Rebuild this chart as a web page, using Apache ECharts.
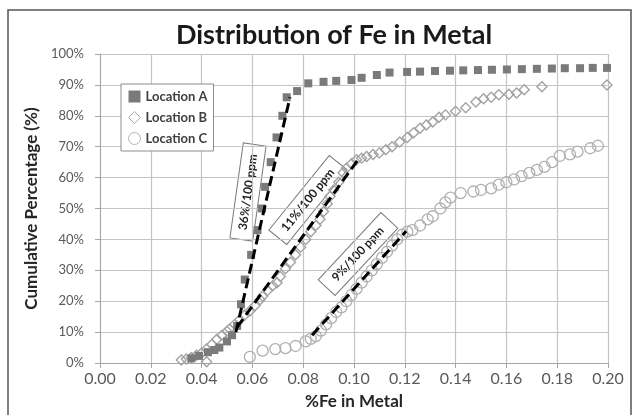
<!DOCTYPE html>
<html>
<head>
<meta charset="utf-8">
<script src="https://cdn.jsdelivr.net/npm/echarts@6/dist/echarts.min.js"></script>
<style>html,body{margin:0;padding:0;background:#fff}#c{width:634px;height:415px}</style>
</head>
<body>
<div id="c"></div>
<script>
// ---- data ----
const titleText = 'Distribution of Fe in Metal';
const xName = '%Fe in Metal';
const yName = 'Cumulative Percentage (%)';
const seriesNames = ['Location A', 'Location B', 'Location C'];

// Location A: [%Fe, cumulative %]
const locA = [
  [0.036,1.5],[0.039,2.3],[0.0425,3.5],[0.045,4.2],[0.047,5],[0.050,7],[0.052,9],[0.054,12],
  [0.0555,19],[0.057,27],[0.0595,35],[0.062,43],[0.0638,50],[0.065,57],[0.0672,65],[0.0695,73],
  [0.0718,80],[0.0735,86],[0.0776,88],[0.082,90.5],[0.088,91],[0.093,91.3],[0.099,91.6],
  [0.103,92.3],[0.109,93.2],[0.114,94],[0.1209,94.2],[0.126,94.3],[0.1319,94.5],[0.1378,94.6],
  [0.143,94.7],[0.1488,94.8],[0.1543,94.9],[0.1602,95],[0.1661,95.1],[0.172,95.2],[0.1779,95.3],
  [0.183,95.4],[0.189,95.4],[0.194,95.5],[0.1996,95.5]
];
// Location B
const locB = [
  [0.032,1],[0.034,1.3],[0.036,1.8],[0.038,2.5],[0.040,3.2],[0.042,0.4],[0.042,4.5],[0.044,6],
  [0.046,7.7],[0.048,9],[0.050,10.3],[0.051,11],[0.053,12.5],[0.055,14],[0.057,15.5],[0.059,16.8],
  [0.061,18.5],[0.063,20.5],[0.064,21.6],[0.066,23.5],[0.068,25],[0.0697,26],[0.071,28],[0.073,30.5],
  [0.075,32.6],[0.077,35],[0.079,37.5],[0.081,40],[0.083,42.5],[0.085,44.5],[0.0866,46.5],[0.088,49],
  [0.0895,51.5],[0.0906,54],[0.092,56],[0.094,58.5],[0.0957,61.6],[0.097,63],[0.099,64.5],[0.101,65.8],
  [0.103,66.3],[0.105,66.8],[0.1075,67.5],[0.110,68],[0.1125,69],[0.115,70],[0.118,71.5],[0.121,73],
  [0.1235,74.5],[0.126,76],[0.1285,77],[0.131,78],[0.1335,79.5],[0.136,80.3],[0.140,81.5],[0.144,82.6],
  [0.148,84.5],[0.151,85.5],[0.154,86],[0.157,86.8],[0.161,87],[0.164,87.4],[0.167,88.4],[0.174,89.4],
  [0.1996,90]
];
// Location C
const locC = [
  [0.059,2],[0.064,4],[0.069,4.5],[0.073,4.8],[0.077,5.5],[0.081,7],[0.083,7.8],[0.085,8.7],
  [0.087,10.5],[0.089,12.5],[0.091,14.5],[0.093,16.5],[0.095,18],[0.097,20],[0.099,22],[0.101,24],
  [0.103,26],[0.105,28],[0.107,30],[0.109,32],[0.111,34],[0.113,36],[0.115,38],[0.117,40],
  [0.119,41.5],[0.121,42.5],[0.123,43],[0.126,44.5],[0.129,46.5],[0.131,47.5],[0.134,50],[0.136,52],
  [0.138,53.5],[0.142,55],[0.147,55.5],[0.150,56],[0.154,56.5],[0.157,57.7],[0.160,58.5],[0.163,59.4],
  [0.166,60.5],[0.169,61.5],[0.172,62.5],[0.175,63.5],[0.178,65],[0.181,67],[0.185,67.5],[0.188,68.4],
  [0.193,69.5],[0.196,70.3]
];
// trend lines (endpoints)
const trendA = [[0.0535,10],[0.0748,86]];
const trendB = [[0.054,11.6],[0.1016,65.8]];
const trendC = [[0.0835,9],[0.1205,42.6]];
const trendLabels = ['36%/100 ppm', '11%/100 ppm', '9%/100 ppm'];

const xMin = 0, xMax = 0.2, xStep = 0.02;
const yMin = 0, yMax = 100, yStep = 10;

// ---- chart ----
const FONT = 'Lato, "Open Sans", sans-serif';
const chart = echarts.init(document.getElementById('c'), null, {renderer: 'canvas'});

function trend(data) {
  return {
    type: 'line', data: data, symbol: 'none', silent: true, z: 10,
    lineStyle: {color: '#000', width: 3, type: [10, 5]}
  };
}
function box(label, cx, cy, deg, w) {
  return {
    type: 'group', x: cx, y: cy, rotation: deg * Math.PI / 180, z: 100,
    children: [
      {type: 'rect', shape: {x: -w / 2, y: -11.5, width: w, height: 23},
       style: {fill: '#fff', stroke: '#7a7a7a', lineWidth: 1}},
      {type: 'text', style: {text: label, x: 0, y: 0, align: 'center', verticalAlign: 'middle',
       font: 'bold 12px ' + FONT, fill: '#222'}}
    ]
  };
}

chart.setOption({
  animation: false,
  backgroundColor: '#fff',
  title: {
    text: titleText, left: 329, top: 17, textAlign: 'center',
    textStyle: {fontFamily: FONT, fontWeight: 'bold', fontSize: 27, color: '#1a1a1a'}
  },
  legend: {
    orient: 'vertical', left: 121, top: 84, itemGap: 8, itemWidth: 12, itemHeight: 12,
    backgroundColor: '#fff', borderColor: '#8c8c8c', borderWidth: 1, borderRadius: 0,
    padding: [6, 6, 6, 7],
    textStyle: {fontFamily: FONT, fontWeight: 'bold', fontSize: 13, color: '#404040'},
    data: [
      {name: seriesNames[0], icon: 'rect', itemStyle: {color: '#7a7a7a', borderWidth: 0}},
      {name: seriesNames[1], icon: 'diamond', itemStyle: {color: '#fff', borderColor: '#a8a8a8', borderWidth: 1}},
      {name: seriesNames[2], icon: 'circle', itemStyle: {color: '#fff', borderColor: '#b4b4b4', borderWidth: 1}}
    ]
  },
  grid: {left: 100, right: 26, top: 54, bottom: 51, containLabel: false},
  xAxis: {
    type: 'value', min: xMin, max: xMax, interval: xStep,
    name: xName, nameLocation: 'middle', nameGap: 30,
    nameTextStyle: {fontFamily: FONT, fontWeight: 'bold', fontSize: 17, color: '#262626'},
    axisLine: {lineStyle: {color: '#a6a6a6', width: 1}},
    axisTick: {show: true, length: 5, lineStyle: {color: '#a6a6a6'}},
    axisLabel: {margin: 8, fontFamily: FONT, fontSize: 16, color: '#5a5a5a',
      formatter: v => v.toFixed(2)},
    splitLine: {show: true, lineStyle: {color: '#c4c4c4', width: 1.2}}
  },
  yAxis: {
    type: 'value', min: yMin, max: yMax, interval: yStep,
    name: yName, nameLocation: 'middle', nameGap: 58, nameRotate: 90,
    nameTextStyle: {fontFamily: FONT, fontWeight: 'bold', fontSize: 17, color: '#262626'},
    axisLine: {show: true, lineStyle: {color: '#a6a6a6', width: 1}},
    axisTick: {show: true, length: 5, lineStyle: {color: '#a6a6a6'}},
    axisLabel: {margin: 16, fontFamily: FONT, fontSize: 13, color: '#5a5a5a',
      formatter: v => v + '%'},
    splitLine: {show: true, lineStyle: {color: '#c4c4c4', width: 1.2}}
  },
  series: [
    {name: seriesNames[0], type: 'scatter', data: locA, symbol: 'rect', symbolSize: 8, z: 4,
     itemStyle: {color: '#7a7a7a', opacity: 1}},
    {name: seriesNames[1], type: 'scatter', data: locB, symbol: 'diamond', symbolSize: 10, z: 3,
     itemStyle: {color: 'rgba(255,255,255,0)', borderColor: '#a3a3a3', borderWidth: 1.4, opacity: 1}},
    {name: seriesNames[2], type: 'scatter', data: locC, symbol: 'circle', symbolSize: 11, z: 3,
     itemStyle: {color: 'rgba(255,255,255,0)', borderColor: '#b0b0b0', borderWidth: 1.3, opacity: 1}},
    trend(trendA), trend(trendB), trend(trendC)
  ],
  graphic: [
    {type: 'rect', z: -1, shape: {x: 8, y: 10, width: 623, height: 420},
     style: {fill: 'none', stroke: '#555', lineWidth: 1.5}},
    box(trendLabels[0], 248, 192, 82, 96),
    box(trendLabels[1], 308, 200, 51, 96),
    box(trendLabels[2], 358, 254, 47, 92)
  ]
});
</script>
</body>
</html>
